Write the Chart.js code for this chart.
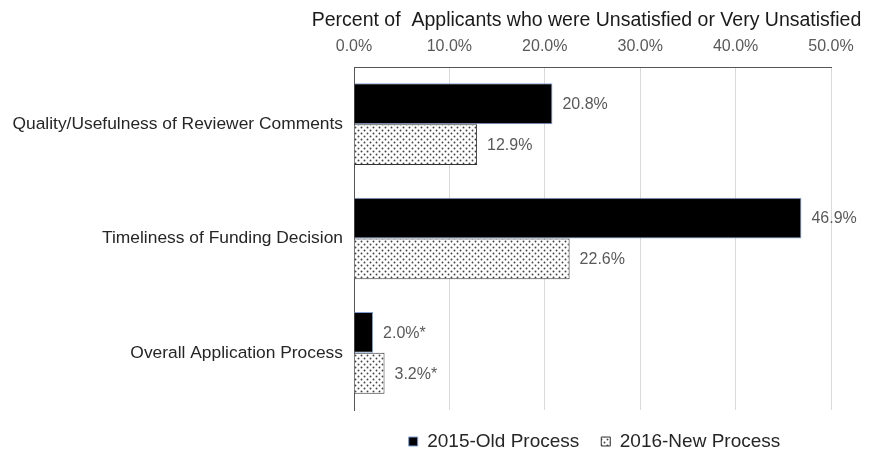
<!DOCTYPE html>
<html><head><meta charset="utf-8">
<script src="https://cdn.jsdelivr.net/npm/chart.js@4"></script>
<style>html,body{margin:0;padding:0;background:#fff}#wrap{width:874px;height:452px}</style>
</head><body><div id="wrap"><canvas id="c" width="874" height="452"></canvas></div>
<script>
const categories = ["Quality/Usefulness of Reviewer Comments", "Timeliness of Funding Decision", "Overall Application Process"];
const oldProcess = [20.8, 46.9, 2.0];
const newProcess = [12.9, 22.6, 3.2];
const oldLabels = ["20.8%", "46.9%", "2.0%*"];
const newLabels = ["12.9%", "22.6%", "3.2%*"];
const seriesNames = ["2015-Old Process", "2016-New Process"];
const axisTitle = "Percent of  Applicants who were Unsatisfied or Very Unsatisfied";

const FONT = '"Liberation Sans", Arial, sans-serif';

function makePattern() {
  const p = document.createElement('canvas');
  p.width = 6; p.height = 6;
  const g = p.getContext('2d');
  g.fillStyle = '#ffffff'; g.fillRect(0, 0, 6, 6);
  g.fillStyle = '#444444';
  g.beginPath(); g.arc(1.5, 1.5, 0.95, 0, Math.PI * 2); g.fill();
  g.beginPath(); g.arc(4.5, 4.5, 0.95, 0, Math.PI * 2); g.fill();
  return g.createPattern(p, 'repeat');
}
const dots = makePattern();

const labelPlugin = {
  id: 'valLabels',
  afterLayout(chart) {
    const lg = chart.legend, ca = chart.chartArea;
    if (!lg) return;
    const d = ((ca.left + ca.right) / 2 - (lg.left + lg.right) / 2) + 2;
    lg.left += d; lg.right += d;
  },
  afterDraw(chart) {
    const ctx = chart.ctx;
    ctx.save();
    ctx.font = '19.5px ' + FONT;
    ctx.fillStyle = '#1a1a1a';
    ctx.textBaseline = 'middle';
    ctx.textAlign = 'center';
    const ca = chart.chartArea;
    ctx.fillText(axisTitle, (ca.left + ca.right) / 2 - 6, 21);
    ctx.restore();
  },
  afterDatasetsDraw(chart) {
    const ctx = chart.ctx;
    ctx.save();
    ctx.font = '16px ' + FONT;
    ctx.fillStyle = '#595959';
    ctx.textBaseline = 'middle';
    ctx.textAlign = 'left';
    const lbls = [oldLabels, newLabels];
    chart.data.datasets.forEach((ds, di) => {
      chart.getDatasetMeta(di).data.forEach((bar, i) => {
        ctx.fillText(lbls[di][i], bar.x + 10, bar.y + 1);
      });
    });
    ctx.restore();
  }
};

new Chart(document.getElementById('c'), {
  type: 'bar',
  data: {
    labels: categories,
    datasets: [
      { label: seriesNames[0], data: oldProcess, backgroundColor: '#000000', borderColor: '#7f9fd3', borderWidth: 1, borderSkipped: 'left' },
      { label: seriesNames[1], data: newProcess, backgroundColor: dots, borderColor: '#333333', borderWidth: 1, borderSkipped: 'left' }
    ]
  },
  options: {
    indexAxis: 'y',
    responsive: false,
    animation: false,
    devicePixelRatio: 1,
    layout: { padding: { left: 0, right: 43, top: 0, bottom: 0 } },
    datasets: { bar: { barPercentage: 1.0, categoryPercentage: 0.715 } },
    scales: {
      x: {
        position: 'top',
        min: 0, max: 50,
        ticks: { stepSize: 10, color: '#595959', font: { size: 16, family: FONT }, padding: 11,
                 callback: v => v.toFixed(1) + '%' },
        grid: { color: '#d9d9d9', drawTicks: false, lineWidth: 1 },
        border: { display: true, color: '#555555', width: 1 },
        afterFit(s) { s.height = 67; }
      },
      y: {
        ticks: { color: '#262626', font: { size: 17.4, family: FONT }, padding: 11 },
        grid: { display: false, drawTicks: false },
        border: { display: true, color: '#555555', width: 1 },
        afterFit(s) { s.width = 354; }
      }
    },
    plugins: {
      legend: {
        position: 'bottom',
        maxHeight: 42,
        labels: { color: '#262626', font: { size: 19, family: FONT }, boxWidth: 9, boxHeight: 9, padding: 22 }
      },
      tooltip: { enabled: false }
    }
  },
  plugins: [labelPlugin]
});
</script></body></html>
